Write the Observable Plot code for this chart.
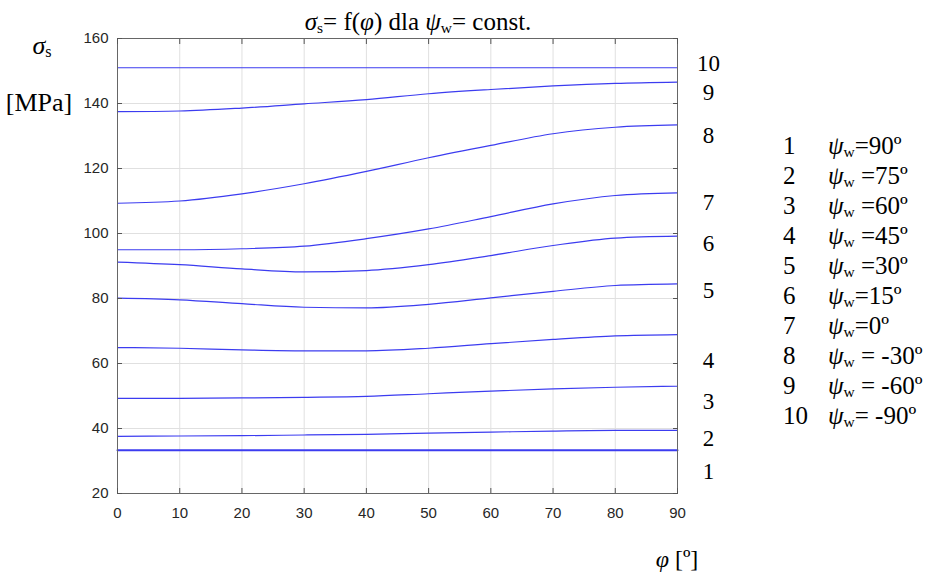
<!DOCTYPE html>
<html><head><meta charset="utf-8">
<script src="https://cdn.jsdelivr.net/npm/d3@7"></script>
<script src="https://cdn.jsdelivr.net/npm/@observablehq/plot@0.6"></script>
<style>
body{margin:0;background:#fff;}
#wrap{position:relative;width:934px;height:572px;font-family:"Liberation Serif","Times New Roman",serif;color:#000;}
#wrap svg{position:absolute;left:0;top:0;}
.t{position:absolute;white-space:nowrap;line-height:1;}
.c{transform:translate(-50%,-50%);}
.l{transform:translate(0,-50%);}
.sub{font-size:0.62em;position:relative;top:0.18em;}
.it{font-style:italic;}
</style></head>
<body><div id="wrap"></div>
<script>
// ---- data ----
const phi = [0, 10, 20, 30, 40, 50, 60, 70, 80, 90];
const s1  = [33.3, 33.3, 33.3, 33.3, 33.3, 33.3, 33.3, 33.3, 33.3, 33.3];
const s2  = [37.6, 37.7, 37.8, 38.0, 38.2, 38.6, 38.9, 39.2, 39.4, 39.4];
const s3  = [49.3, 49.3, 49.4, 49.6, 49.9, 50.7, 51.5, 52.2, 52.7, 53.0];
const s4  = [64.9, 64.7, 64.2, 63.9, 63.9, 64.7, 66.1, 67.4, 68.5, 68.9];
const s5  = [80.1, 79.6, 78.4, 77.3, 77.1, 78.2, 80.2, 82.2, 84.0, 84.5];
const s6  = [91.2, 90.4, 89.1, 88.2, 88.6, 90.4, 93.2, 96.3, 98.6, 99.2];
const s7  = [95.0, 95.0, 95.3, 96.1, 98.4, 101.4, 105.2, 109.1, 111.7, 112.5];
const s8  = [109.3, 110.0, 112.2, 115.3, 119.1, 123.3, 127.1, 130.7, 132.7, 133.4];
const s9  = [137.5, 137.7, 138.6, 139.9, 141.2, 143.0, 144.3, 145.4, 146.2, 146.6];
const s10 = [151.0, 151.0, 151.0, 151.0, 151.0, 151.0, 151.0, 151.0, 151.0, 151.0];
const curveIds = [1, 2, 3, 4, 5, 6, 7, 8, 9, 10];
const psiText = ["=90º", " =75º", " =60º", " =45º", " =30º", "=15º", "=0º", " = -30º", " = -60º", "= -90º"];
const xTicks = [0, 10, 20, 30, 40, 50, 60, 70, 80, 90];
const yTicks = [20, 40, 60, 80, 100, 120, 140, 160];

// ---- build ----
const series = [s1, s2, s3, s4, s5, s6, s7, s8, s9, s10];
const rows = series.flatMap((s, i) => s.map((v, j) => ({id: curveIds[i], phi: phi[j], v})));
const ends = series.map((s, i) => ({id: curveIds[i], phi: phi[phi.length - 1], v: s[s.length - 1]}));
const labelDy = [21, 8, 15, 26, 7, 8, 10, 11, 11, -4];
const serif = '"Liberation Serif","Times New Roman",serif';

const chart = Plot.plot({
  width: 934, height: 572,
  marginLeft: 117, marginRight: 257, marginTop: 38, marginBottom: 79,
  style: {fontFamily: '"Liberation Sans", Arial, sans-serif', fontSize: "15px", color: "#262626", background: "transparent", overflow: "visible"},
  x: {domain: [0, 90]},
  y: {domain: [20, 160]},
  marks: [
    Plot.gridX(xTicks, {stroke: "#e0e0e0", strokeOpacity: 1}),
    Plot.gridY(yTicks, {stroke: "#e0e0e0", strokeOpacity: 1}),
    Plot.line(rows, {x: "phi", y: "v", z: "id", stroke: "#3c3cf0", strokeWidth: d => d.id === 1 ? 2 : 1.2, curve: "monotone-x"}),
    Plot.frame({stroke: "#666"}),
    Plot.axisX(xTicks, {anchor: "bottom", tickSize: 0, tickPadding: 14, label: null, fill: "#262626"}),
    Plot.axisX(xTicks, {anchor: "bottom", tickSize: -5, tickFormat: () => "", label: null, stroke: "#555"}),
    Plot.axisX(xTicks, {anchor: "top", tickSize: -5, tickFormat: () => "", label: null, stroke: "#555"}),
    Plot.axisY(yTicks, {anchor: "left", tickSize: 0, tickPadding: 9, label: null, fill: "#262626"}),
    Plot.axisY(yTicks, {anchor: "left", tickSize: -5, tickFormat: () => "", label: null, stroke: "#555"}),
    Plot.axisY(yTicks, {anchor: "right", tickSize: -5, tickFormat: () => "", label: null, stroke: "#555"}),
    ...ends.map((d, i) => Plot.text([d], {x: "phi", y: "v", text: "id", dx: 31, dy: labelDy[i], fontFamily: serif, fontSize: 23, fill: "#000", textAnchor: "middle"}))
  ]
});
const wrap = document.getElementById("wrap");
wrap.appendChild(chart);

function addText(html, x, y, size, cls) {
  const d = document.createElement("div");
  d.className = "t " + cls;
  d.style.left = x + "px"; d.style.top = y + "px"; d.style.fontSize = size + "px";
  d.innerHTML = html;
  wrap.appendChild(d);
}
addText('<span class="it">σ</span><span class="sub">s</span>= f(<span class="it">φ</span>) dla <span class="it">ψ</span><span class="sub">w</span>= const.', 418, 21, 25, "c");
addText('<span class="it">σ</span><span class="sub">s</span>', 42, 46, 26, "c");
addText('[MPa]', 39, 103, 26, "c");
addText('<span class="it">φ</span> [º]', 677, 559, 24, "c");
curveIds.forEach((id, i) => {
  const y = 145 + 30 * i;
  addText(String(id), 783, y, 25, "l");
  addText('<span class="it">ψ</span><span class="sub">w</span>' + psiText[i], 828, y, 25, "l");
});
</script>
</body></html>
